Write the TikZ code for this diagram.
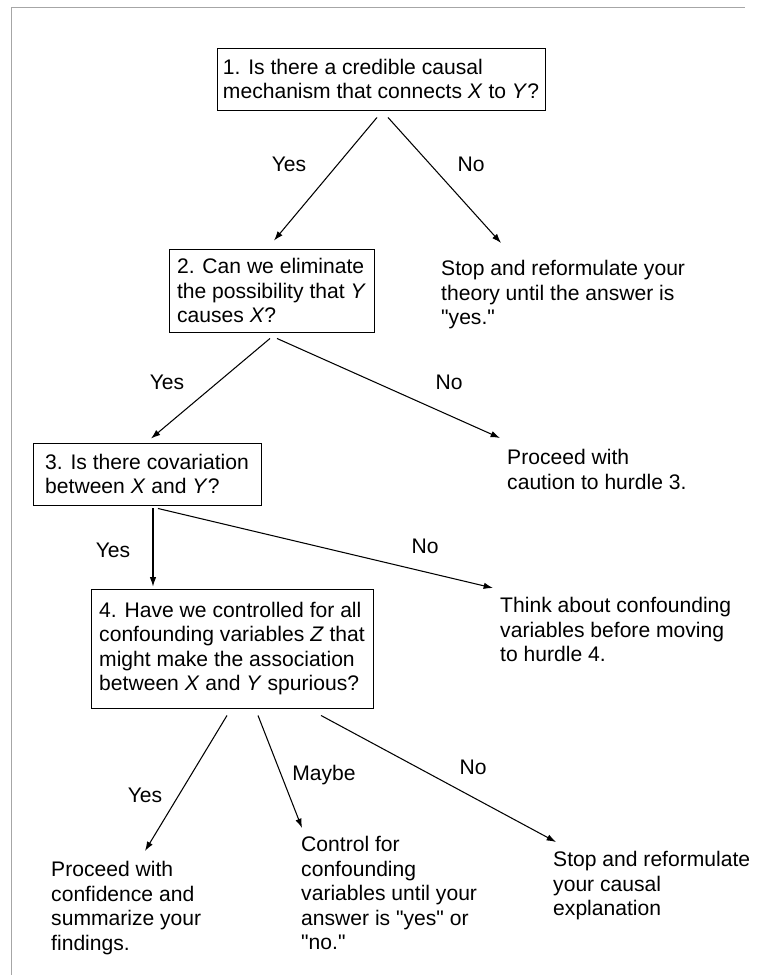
\documentclass[tikz,border=0pt]{standalone}
\usepackage{fontspec}
\setmainfont{Liberation Sans}[Ligatures=TeXOff]
\usetikzlibrary{calc, arrows.meta}
\begin{document}
\begin{tikzpicture}[x=0.3mm, y=-0.3mm,
    every node/.style={font=\fontsize{18}{21}\selectfont, inner sep=0pt},
    qbox/.style={draw, line width=0.8pt, align=left},
    txt/.style={anchor=north west, align=left},
    lab/.style={anchor=base},
    arr/.style={->, >={Latex[length=8pt, width=5.5pt]}, line width=0.9pt}]
    \useasboundingbox (0,0) rectangle (757,975);
    \draw[gray!70, line width=0.5pt] (11,975) -- (11,7) -- (745,7);

    % hurdles
    \node[qbox, minimum width=98.4mm, minimum height=18.6mm] (q1) at (381,79)
        {1. Is there a credible causal\\mechanism that connects \textit{X} to \textit{Y}?};
    \node[qbox, minimum width=61.5mm, minimum height=24.9mm] (q2) at (271.5,290.5)
        {2. Can we eliminate\\the possibility that \textit{Y}\\causes \textit{X}?};
    \node[qbox, minimum width=68.4mm, minimum height=18.6mm] (q3) at (147,474)
        {3. Is there covariation\\between \textit{X} and \textit{Y}?};
    \node[qbox, minimum width=84.6mm, minimum height=35.7mm] (q4) at (232,648.5)
        {4. Have we controlled for all\\confounding variables \textit{Z} that\\might make the association\\between \textit{X} and \textit{Y} spurious?};

    % answers
    \node[txt] (a1) at (441,260) {Stop and reformulate your\\theory until the answer is\\"yes."};
    \node[txt] (a2) at (507,449) {Proceed with\\caution to hurdle 3.};
    \node[txt] (a3) at (500,597) {Think about confounding\\variables before moving\\to hurdle 4.};
    \node[txt] (r1) at (51,861) {Proceed with\\confidence and\\summarize your\\findings.};
    \node[txt] (r2) at (301,836) {Control for\\confounding\\variables until your\\answer is "yes" or\\"no."};
    \node[txt] (r3) at (553,851) {Stop and reformulate\\your causal\\explanation};

    % arrows
    \draw[arr] ($(q1.south)+(-4,7)$) -- ($(q2.north)+(2.5,-8)$);
    \draw[arr] ($(q1.south)+(7,7)$) -- ($(a1.north west)+(60,-17)$);
    \draw[arr] ($(q2.south)+(-1.5,6)$) -- ($(q3.north)+(4,-4)$);
    \draw[arr] ($(q2.south)+(5.5,6)$) -- ($(a2.north west)+(-7,-11)$);
    \draw[arr] ($(q3.south)+(6,3)$) -- ($(q4.north)+(-79,-2)$);
    \draw[arr] ($(q3.south)+(11,3)$) -- ($(a3.north west)+(-7,-9)$);
    \draw[arr] ($(q4.south)+(-5,7)$) -- ($(r1.north west)+(94,-10)$);
    \draw[arr] ($(q4.south)+(26,7)$) -- ($(r2.north west)+(1,-8)$);
    \draw[arr] ($(q4.south)+(89,7)$) -- ($(r3.north west)+(3,-9)$);

    % labels
    \node[lab] (y1) at (289,171) {Yes};
    \node[lab] (n1) at (471,171) {No};
    \node[lab] (y2) at (167,389) {Yes};
    \node[lab] (n2) at (449,389) {No};
    \node[lab] (y3) at (113,557) {Yes};
    \node[lab] (n3) at (425,553) {No};
    \node[lab] (y4) at (145,802) {Yes};
    \node[lab] (m4) at (324,780) {Maybe};
    \node[lab] (n4) at (473,774) {No};
\end{tikzpicture}
\end{document}
